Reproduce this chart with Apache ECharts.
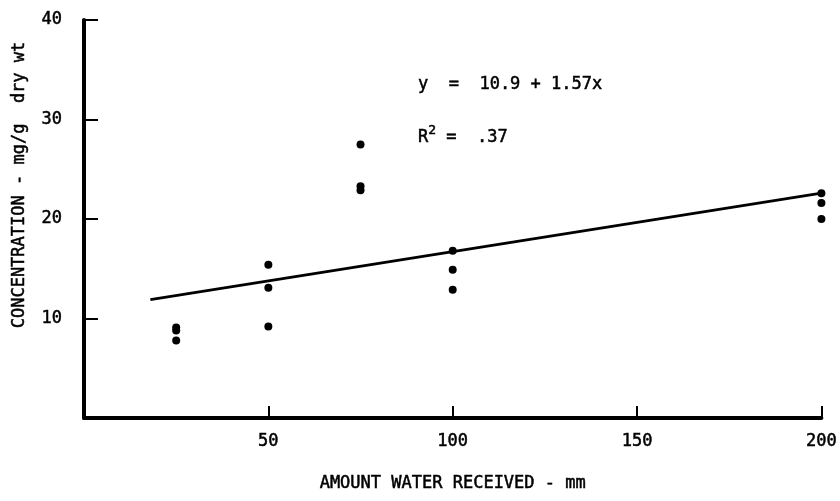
<!DOCTYPE html>
<html>
<head>
<meta charset="utf-8">
<script src="https://cdn.jsdelivr.net/npm/echarts@6.0.0/dist/echarts.min.js"></script>
<style>
  html, body { margin: 0; padding: 0; background: #fff; }
  #chart { width: 840px; height: 501px; }
</style>
</head>
<body>
<div id="chart"></div>
<script>
// 数据：降水量 (mm) 与浓度 (mg/g dry wt)
const waterMm = [25, 25, 25, 50, 50, 50, 75, 75, 75, 100, 100, 100, 200, 200, 200];
const concentration = [9.1, 8.8, 7.8, 15.4, 13.1, 9.2, 27.5, 23.3, 22.9, 16.8, 14.9, 12.9, 22.6, 21.6, 20.0];
// 回归线两端
const fitX = [18, 200];
const fitY = [11.9, 22.6];
const xTicks = [0, 50, 100, 150, 200];
const yTicks = [0, 10, 20, 30, 40];

const FONT = 'DejaVu Sans Mono';
// 原图是打字机字体，笔画偏粗，加一点描边
const ink = { color: '#000', textBorderColor: '#000', textBorderWidth: 0.5 };
// graphic 里的文字用 zrender 的写法
const gInk = { fill: '#000', stroke: '#000', lineWidth: 0.5 };
const points = waterMm.map((x, i) => [x, concentration[i]]);
const fitLine = fitX.map((x, i) => [x, fitY[i]]);

const chart = echarts.init(document.getElementById('chart'));
chart.setOption({
  animation: false,
  backgroundColor: '#fff',
  grid: { left: 84, right: 16, top: 20, bottom: 83 },
  xAxis: {
    type: 'value',
    min: xTicks[0],
    max: xTicks[xTicks.length - 1],
    interval: 50,
    name: 'AMOUNT WATER RECEIVED - mm',
    nameLocation: 'middle',
    nameGap: 57,
    nameTextStyle: { fontFamily: FONT, fontSize: 17, ...ink },
    axisLine: { lineStyle: { color: '#000', width: 4 } },
    axisTick: { inside: true, length: 12, lineStyle: { color: '#000', width: 2 } },
    axisLabel: { showMinLabel: false, margin: 15, fontFamily: FONT, fontSize: 17, ...ink },
    splitLine: { show: false }
  },
  yAxis: {
    type: 'value',
    min: yTicks[0],
    max: yTicks[yTicks.length - 1],
    interval: 10,
    axisLine: { show: true, lineStyle: { color: '#000', width: 4 } },
    axisTick: { show: true, inside: true, length: 14, lineStyle: { color: '#000', width: 2 } },
    axisLabel: { showMinLabel: false, margin: 22, fontFamily: FONT, fontSize: 17, ...ink },
    splitLine: { show: false }
  },
  graphic: [
    {
      type: 'text',
      x: 20, y: 185,
      rotation: Math.PI / 2,
      style: {
        text: 'CONCENTRATION - mg/g  dry wt',
        font: '17px "DejaVu Sans Mono"',
        ...gInk,
        textAlign: 'center',
        textVerticalAlign: 'middle'
      }
    },
    {
      type: 'text',
      x: 418, y: 85,
      style: {
        text: 'y  =  10.9 + 1.57x',
        font: '17px "DejaVu Sans Mono"',
        ...gInk,
        textVerticalAlign: 'middle'
      }
    },
    {
      type: 'text',
      x: 418, y: 135,
      style: {
        text: '{r|R}{s|2}{r| =  .37}',
        textVerticalAlign: 'middle',
        rich: {
          r: { fontFamily: FONT, fontSize: 17, lineHeight: 22, verticalAlign: 'bottom', ...gInk },
          s: { fontFamily: FONT, fontSize: 13, lineHeight: 22, verticalAlign: 'top', ...gInk }
        }
      }
    }
  ],
  series: [
    {
      type: 'line',
      data: fitLine,
      showSymbol: false,
      lineStyle: { color: '#000', width: 2.8 },
      z: 2
    },
    {
      type: 'scatter',
      data: points,
      symbolSize: 8,
      itemStyle: { color: '#000', opacity: 1 },
      z: 3
    }
  ]
});
</script>
</body>
</html>
